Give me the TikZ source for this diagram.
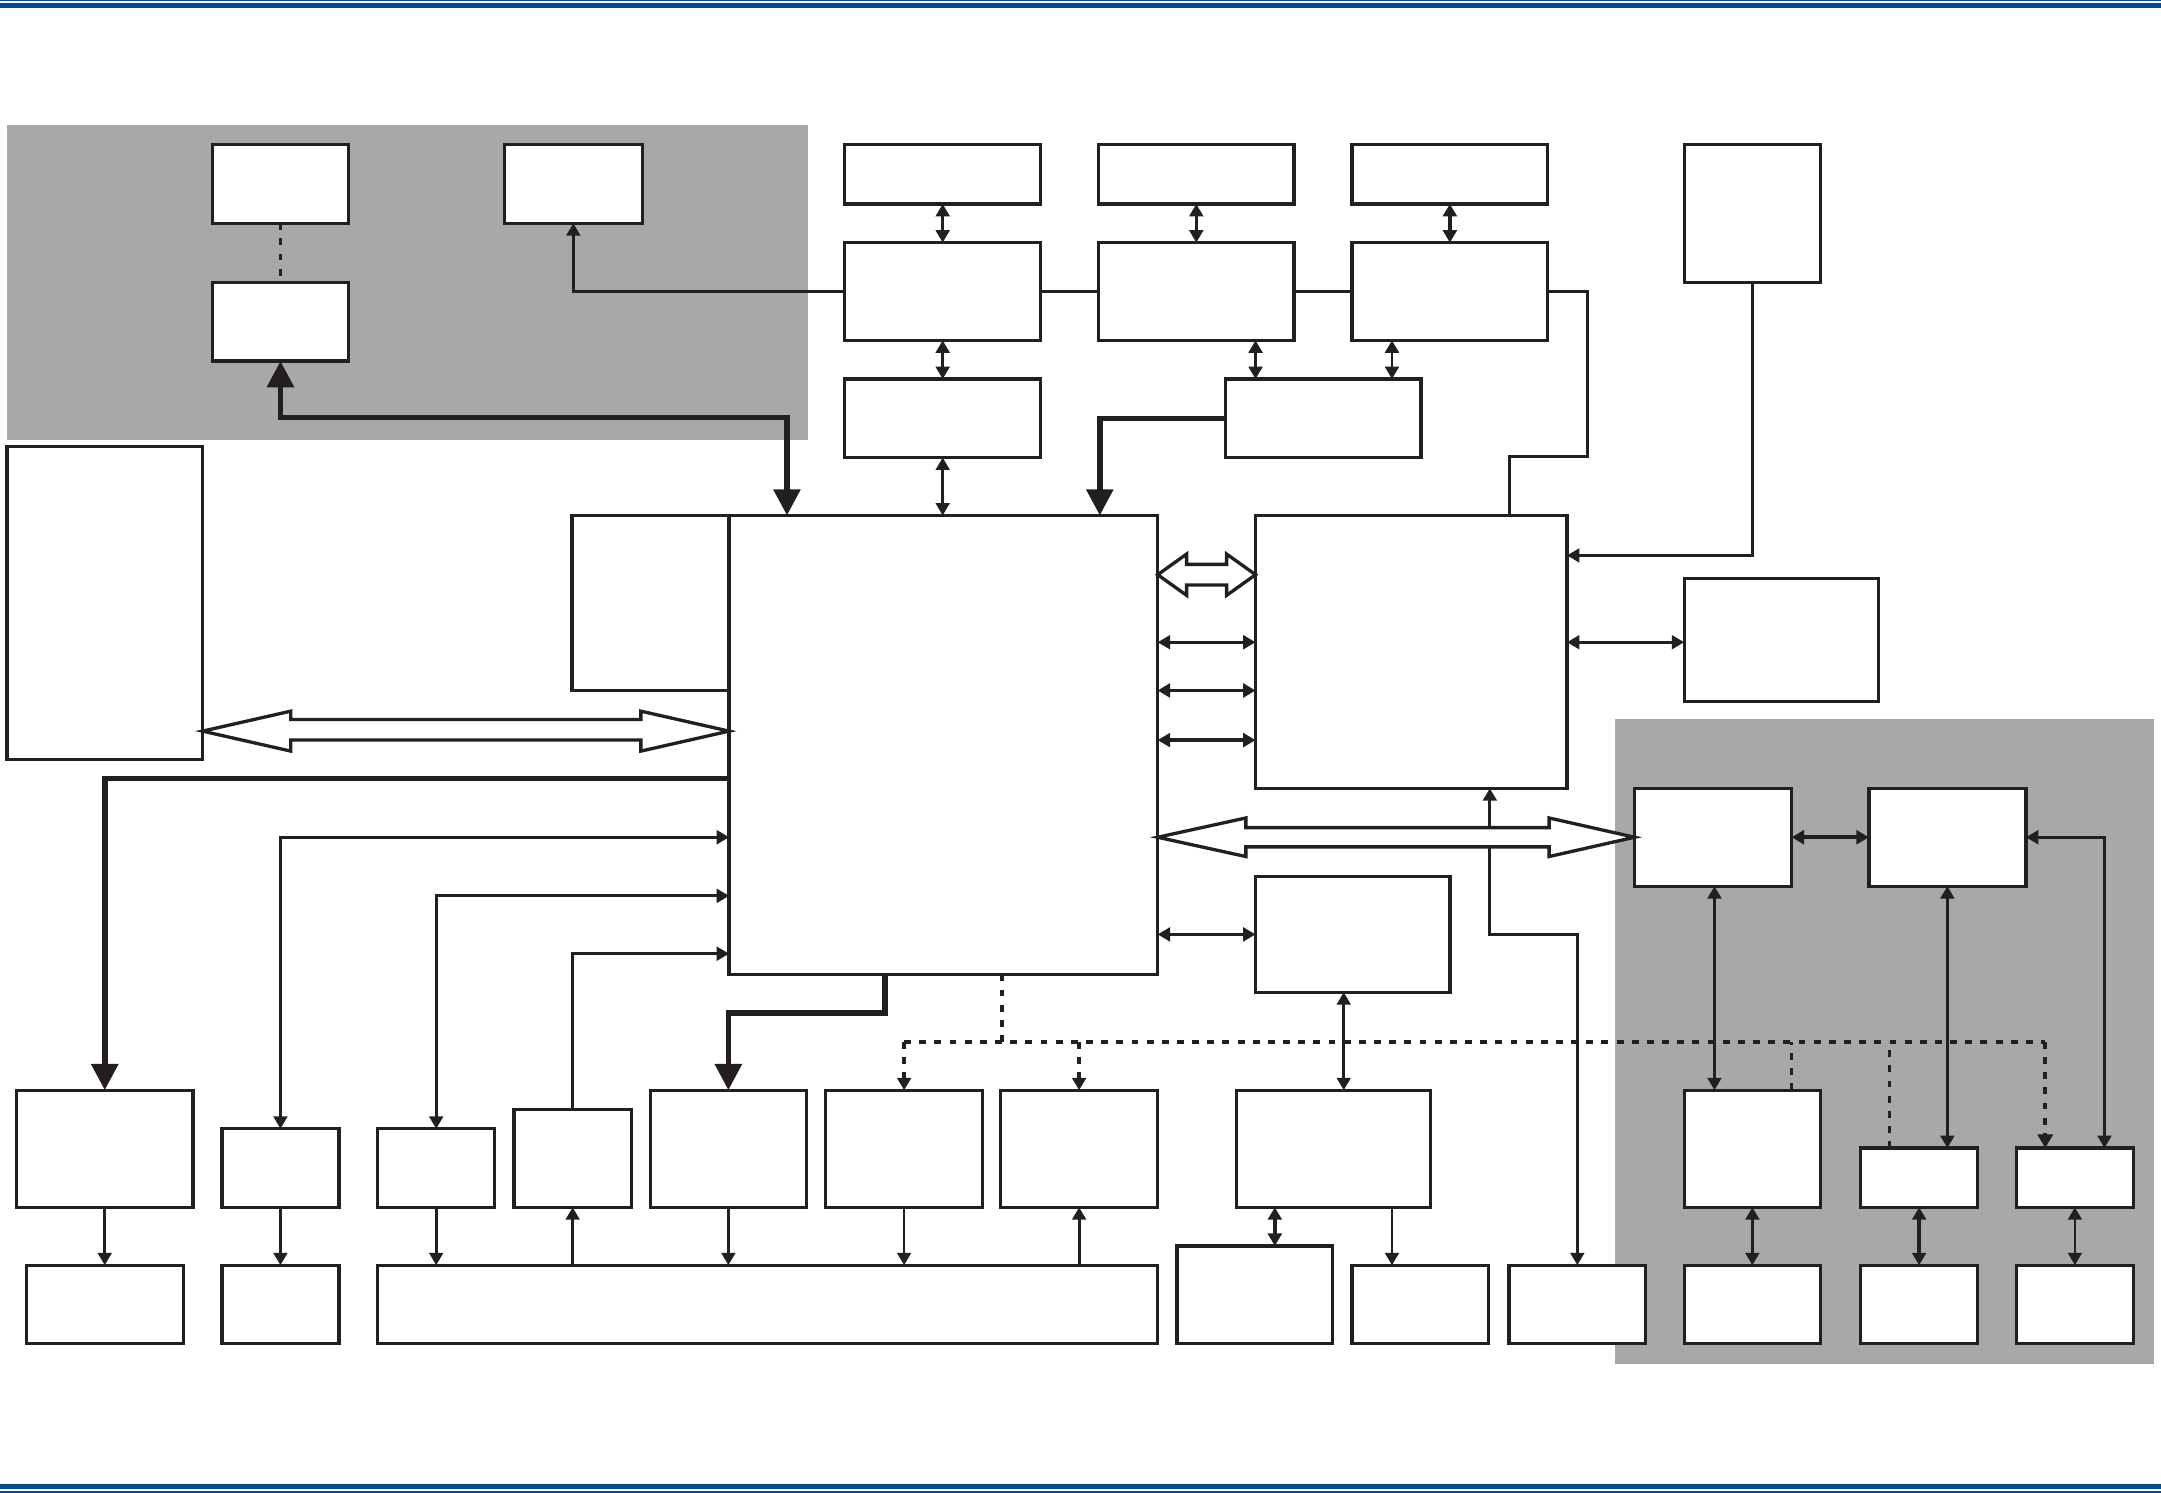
\documentclass[tikz,border=0pt]{standalone}
\usetikzlibrary{arrows.meta,calc}
\definecolor{bandblue}{RGB}{0,76,141}
\definecolor{panelgray}{RGB}{168,168,168}
\definecolor{ink}{RGB}{35,31,32}
\newcommand\bx[5]{\node[box,minimum width={(#4)-(#2)},minimum height={(#5)-(#3)}] (#1) at ({((#2)+(#4))/2},{((#3)+(#5))/2}) {};}
\begin{document}
\begin{tikzpicture}[x=1pt,y=-1pt,
  tipS/.tip={Triangle[length=9pt,width=10pt]},
  tipM/.tip={Triangle[length=10pt,width=11pt]},
  tipB/.tip={Triangle[length=19pt,width=19pt]},
  box/.style={draw=ink,fill=white,line width=2.4pt,inner sep=0pt,outer sep=0pt},
  ln/.style={draw=ink,line width=2pt},
  lnm/.style={draw=ink,line width=2.6pt},
  lnt/.style={draw=ink,line width=3.2pt},
  bold/.style={draw=ink,line width=4pt},
  dots/.style={draw=ink,line width=2.6pt,dash pattern=on 5pt off 6pt},
  blk/.style={draw=ink,fill=white,line width=2.4pt,line join=miter}]
\useasboundingbox (0,0) rectangle (1568,1083);
% blue bands
\fill[bandblue] (0,0) rectangle (1568,1);
\fill[bandblue] (0,2) rectangle (1568,5.5);
\fill[bandblue] (0,1077) rectangle (1568,1080.5);
\fill[bandblue] (0,1081.5) rectangle (1568,1083);
% gray panels
\fill[panelgray] (5,91) rectangle (586,319);
\fill[panelgray] (1172,522) rectangle (1563,990);
% boxes
\bx{A1}{154}{105}{253}{162}
\bx{A2}{154}{205}{253}{262}
\bx{A3}{366}{105}{466}{162}
\bx{T1}{613}{105}{755}{148}
\bx{T2}{797}{105}{939}{148}
\bx{T3}{981}{105}{1123}{148}
\bx{M1}{613}{176}{755}{247}
\bx{M2}{797}{176}{939}{247}
\bx{M3}{981}{176}{1123}{247}
\bx{B1}{613}{275}{755}{332}
\bx{B2}{889}{275}{1031}{332}
\bx{R1}{1222}{105}{1321}{205}
\bx{L}{5}{324}{147}{551}
\bx{S}{415}{374}{529}{501}
\bx{CPU}{529}{374}{840}{707}
\bx{D}{911}{374}{1137}{572}
\bx{E}{1222}{420}{1363}{509}
\bx{F}{911}{636}{1052}{720}
\bx{G1}{1186}{572}{1300}{643}
\bx{G2}{1356}{572}{1470}{643}
\bx{G3}{1222}{791}{1321}{876}
\bx{G4}{1350}{833}{1435}{876}
\bx{G5}{1463}{833}{1548}{876}
\bx{K1}{12}{791}{140}{876}
\bx{K2}{161}{819}{246}{876}
\bx{K3}{274}{819}{359}{876}
\bx{K4}{373}{805}{458}{876}
\bx{K5}{472}{791}{585}{876}
\bx{K6}{599}{791}{713}{876}
\bx{K7}{726}{791}{840}{876}
\bx{K8}{897}{791}{1038}{876}
\bx{Q1}{19}{918}{133}{975}
\bx{Q2}{161}{918}{246}{975}
\bx{Q3}{274}{918}{840}{975}
\bx{Q4}{854}{904}{967}{975}
\bx{Q5}{981}{918}{1080}{975}
\bx{H2}{1095}{918}{1194}{975}
\bx{H3}{1222}{918}{1321}{975}
\bx{H4}{1350}{918}{1435}{975}
\bx{H5}{1463}{918}{1548}{975}
% top-left panel
\draw[dots] (A1.south) -- (A2.north);
\draw[ln,-{tipS}] (M1.west) -| (A3.south);
\coordinate (c1) at ($(CPU.north west)+(42,0)$);
\draw[bold,{tipB}-{tipB}] (A2.south) |- (c1 |- 0,303) -- (c1);
% top row
\draw[ln,{tipS}-{tipS}] (T1.south) -- (M1.north);
\draw[ln,{tipS}-{tipS}] (T2.south) -- (M2.north);
\draw[lnm,{tipS}-{tipS}] (T3.south) -- (M3.north);
\draw[ln] (M1.east) -- (M2.west);
\draw[ln] (M2.east) -- (M3.west);
\draw[ln] (M3.east) -- ++(29,0) -- ++(0,120) -| (D.north -| 1095,0);
\draw[ln,{tipS}-{tipS}] (M1.south) -- (B1.north);
\draw[ln,{tipS}-{tipS}] (M2.south -| 911,0) -- (B2.north -| 911,0);
\draw[ln,{tipS}-{tipS}] (M3.south -| 1010,0) -- (B2.north -| 1010,0);
\draw[ln,{tipS}-{tipS}] (B1.south) -- (B1.south |- CPU.north);
\draw[bold,-{tipB}] (B2.west) -| (CPU.north -| 798,0);
\draw[ln,-{tipS}] (R1.south) |- (D.east |- 0,403);
% CPU - D
\draw[blk] (CPU.east |- 0,417) -- ++(21,-15) -- ++(0,7.5) -- ++(29,0) -- ++(0,-7.5) -- (D.west |- 0,417) -- ++(-21,15) -- ++(0,-7.5) -- ++(-29,0) -- ++(0,7.5) -- cycle;
\draw[ln,{tipS}-{tipS}] (CPU.east |- 0,466) -- (D.west |- 0,466);
\draw[lnm,{tipS}-{tipS}] (CPU.east |- 0,501) -- (D.west |- 0,501);
\draw[lnt,{tipS}-{tipS}] (CPU.east |- 0,537) -- (D.west |- 0,537);
\draw[ln,{tipS}-{tipS}] (D.east |- 0,466) -- (E.west |- 0,466);
% L - CPU
\draw[blk] (L.east |- 0,530.5) -- ++(64,-14.5) -- ++(0,6) -- ++(254,0) -- ++(0,-6) -- (CPU.west |- 0,530.5) -- ++(-64,14.5) -- ++(0,-8) -- ++(-254,0) -- ++(0,8) -- cycle;
% D - H2 line
\draw[ln,{tipS}-{tipS}] (D.south -| 1081,0) -- (1081,678) -| (H2.north);
% CPU - G1
\draw[blk] (CPU.east |- G1.west) -- ++(64,-14) -- ++(0,7) -- ++(220,0) -- ++(0,-7) -- (G1.west) -- ++(-62,14) -- ++(0,-7) -- ++(-220,0) -- ++(0,7) -- cycle;
\draw[ln,{tipS}-{tipS}] (CPU.east |- F.west) -- (F.west);
\draw[ln,{tipS}-{tipS}] (F.south -| 975,0) -- (K8.north -| 975,0);
% CPU left connectors
\draw[bold,-{tipB}] (CPU.west |- 0,565) -| (K1.north);
\draw[ln,{tipS}-{tipS}] (K2.north) |- (CPU.west |- 0,607.5);
\draw[ln,{tipS}-{tipS}] (K3.north) |- (CPU.west |- 0,650);
\draw[ln,-{tipS}] (K4.north) |- (CPU.west |- 0,692);
\draw[bold,-{tipB}] (CPU.south -| 642,0) -- (642,735) -| (K5.north);
% dotted bus
\draw[dots] (CPU.south -| 727,0) -- (727,756);
\draw[dots] (656,756) -- (1484,756);
\draw[dots,-{tipS}] (656,756) -- (K6.north);
\draw[dots,-{tipS}] (K7.north |- 0,756) -- (K7.north);
\draw[dots] (G3.north -| 1300,0) -- (1300,756);
\draw[dots] (G4.north -| 1371,0) -- (1371,756);
\draw[dots,-{tipM}] (1484,756) -- (G5.north -| 1484,0);
% bottom connectors
\draw[ln,-{tipS}] (K1.south) -- (Q1.north);
\draw[lnm,-{tipS}] (K2.south) -- (Q2.north);
\draw[ln,-{tipS}] (K3.south) -- (Q3.north -| K3.south);
\draw[ln,-{tipS}] (Q3.north -| K4.south) -- (K4.south);
\draw[ln,-{tipS}] (K5.south) -- (Q3.north -| K5.south);
\draw[ln,-{tipS}] (K6.south) -- (Q3.north -| K6.south);
\draw[ln,-{tipS}] (Q3.north -| K7.south) -- (K7.south);
\draw[lnm,{tipS}-{tipS}] (Q4.north -| 925,0) -- (K8.south -| 925,0);
\draw[ln,-{tipS}] (K8.south -| 1010,0) -- (Q5.north -| 1010,0);
% right panel
\draw[lnm,{tipS}-{tipS}] (G1.east) -- (G2.west);
\draw[ln,{tipS}-{tipS}] (G1.south -| 1244,0) -- (G3.north -| 1244,0);
\draw[ln,{tipS}-{tipS}] (G2.south -| 1413,0) -- (G4.north -| 1413,0);
\draw[ln,{tipS}-{tipS}] (G2.east) -| (G5.north -| 1527,0);
\draw[lnm,{tipS}-{tipS}] (G3.south) -- (H3.north);
\draw[lnt,{tipS}-{tipS}] (G4.south) -- (H4.north);
\draw[ln,{tipS}-{tipS}] (G5.south) -- (H5.north);
\end{tikzpicture}
\end{document}
